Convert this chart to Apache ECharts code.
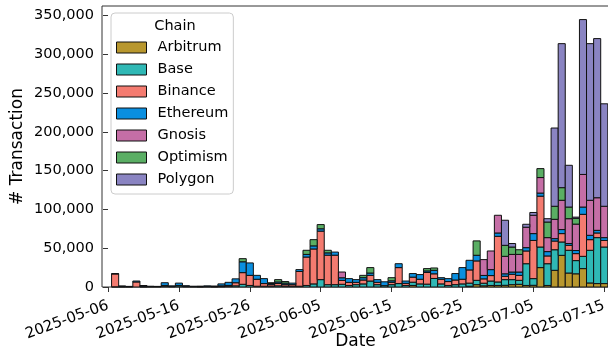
<!DOCTYPE html>
<html><head><meta charset="utf-8">
<script src="https://cdn.jsdelivr.net/npm/echarts@6/dist/echarts.min.js"></script>
<style>html,body{margin:0;padding:0;background:#fff}#c{width:608px;height:356px}</style>
</head><body><div id="c"></div>
<script>
const dates = [
'2025-05-07','2025-05-08','2025-05-09','2025-05-10','2025-05-11','2025-05-12','2025-05-13','2025-05-14','2025-05-15','2025-05-16',
'2025-05-17','2025-05-18','2025-05-19','2025-05-20','2025-05-21','2025-05-22','2025-05-23','2025-05-24','2025-05-25','2025-05-26',
'2025-05-27','2025-05-28','2025-05-29','2025-05-30','2025-05-31','2025-06-01','2025-06-02','2025-06-03','2025-06-04','2025-06-05',
'2025-06-06','2025-06-07','2025-06-08','2025-06-09','2025-06-10','2025-06-11','2025-06-12','2025-06-13','2025-06-14','2025-06-15',
'2025-06-16','2025-06-17','2025-06-18','2025-06-19','2025-06-20','2025-06-21','2025-06-22','2025-06-23','2025-06-24','2025-06-25',
'2025-06-26','2025-06-27','2025-06-28','2025-06-29','2025-06-30','2025-07-01','2025-07-02','2025-07-03','2025-07-04','2025-07-05',
'2025-07-06','2025-07-07','2025-07-08','2025-07-09','2025-07-10','2025-07-11','2025-07-12','2025-07-13','2025-07-14','2025-07-15'];
const xTickLabels = ['2025-05-06','2025-05-16','2025-05-26','2025-06-05','2025-06-15','2025-06-25','2025-07-05','2025-07-15'];
const yTickValues = [0,50000,100000,150000,200000,250000,300000,350000];
const chains = ['Arbitrum','Base','Binance','Ethereum','Gnosis','Optimism','Polygon'];

const arbitrum = [
0,0,0,0,0,0,0,0,0,0,
0,0,0,0,0,0,0,0,0,0,
0,0,0,0,0,0,0,0,0,0,
0,0,0,0,0,0,0,0,0,0,
0,0,2000,0,0,0,0,0,0,0,
1000,3000,1500,2000,2000,2200,3000,3500,2000,2200,
25000,2000,21500,40800,18000,17000,23700,5200,4400,4400];
const base = [
300,300,0,0,300,0,0,1200,0,1500,
0,0,300,0,300,500,1000,1500,3500,2000,
1000,1000,1000,1500,1000,1000,1000,2000,4000,9500,
3000,3000,3500,2000,3000,4000,7700,3000,1700,3000,
4400,2000,4200,4000,3700,11000,4000,2000,3000,4000,
4000,5600,3400,5700,4500,7300,6500,5100,28000,8600,
26500,28000,26500,17200,29300,17000,15800,42100,59200,47100];
const binance = [
16500,500,300,6500,800,400,400,800,500,500,
500,400,300,500,400,1000,1000,4000,15000,13000,
9000,3400,2000,3000,2000,2000,19000,36600,45000,62500,
38000,38000,5000,4000,3000,5000,7300,3000,0,3000,
20600,2700,6500,6000,15000,6000,6000,5000,6000,6000,
17000,25000,5600,7000,58800,4300,6900,6400,16400,49200,
65500,10000,11200,10800,6400,9000,54100,13700,6000,8500];
const ethereum = [
500,500,500,1200,800,600,400,3500,1000,3000,
1200,600,500,1000,500,2500,4000,5000,14000,16000,
5000,6400,1500,2000,2000,2000,2400,3400,4000,3000,
3000,4000,3400,4800,3500,3000,3000,3500,5000,2000,
5000,3000,4600,6000,2000,4500,2000,3800,8300,15000,
12400,7300,4400,7700,4300,3200,2900,4300,4300,8800,
4000,5600,3100,5200,2300,4000,9400,5600,3400,3600];
const gnosis = [
0,0,0,0,0,0,0,0,0,0,
0,0,0,0,0,0,0,0,0,0,
0,0,0,0,0,0,0,0,0,0,
0,0,7400,0,0,0,0,0,0,0,
0,0,0,0,0,0,0,0,0,0,
0,0,20400,24000,22800,22500,22700,22700,26300,23600,
20000,18000,24900,37700,32000,34000,42000,45100,42000,40400];
const optimism = [
0,0,0,0,0,0,0,0,0,0,
0,0,0,0,0,0,0,0,4000,0,
0,0,1000,3000,2000,0,0,5300,8000,5400,
3300,0,0,0,0,3000,7000,0,0,4000,
0,0,0,0,3000,3000,0,0,0,0,
0,18500,0,0,0,14200,9500,6000,0,0,
11500,20100,16800,16300,15000,7500,0,0,0,0];
const polygon = [
0,0,0,0,0,0,0,0,0,0,
0,0,0,0,0,0,0,0,0,0,
0,0,0,0,0,0,0,0,0,0,
0,0,0,0,0,0,0,0,0,0,
0,0,0,0,0,0,0,0,0,0,
0,0,0,0,0,32300,4500,0,3800,3600,
0,4300,100800,185500,53800,1500,199500,201800,205000,132000];

const colors = ['#b8972e','#2fb8b5','#f47b70','#0a8fe0','#c56ea6','#5aae64','#8a84c2'];
const F = 'DejaVu Sans';
const DAY = 86400000;
const origin = Date.parse(xTickLabels[0]);
const toDay = s => Math.round((Date.parse(s) - origin) / DAY);
const dayX = dates.map(toDay);
const xTicks = xTickLabels.map(toDay);
const seriesValues = [arbitrum, base, binance, ethereum, gnosis, optimism, polygon];

// cumulative stacking (bottom -> top in legend order)
const running = dates.map(() => 0);
const stackedData = seriesValues.map(vals => {
  const out = [];
  vals.forEach((v, i) => {
    if (v > 0) out.push([dayX[i], running[i], running[i] + v]);
    running[i] += v;
  });
  return out;
});

function renderBar(params, api) {
  const x = api.value(0), lo = api.value(1), hi = api.value(2);
  const p0 = api.coord([x - 0.5, hi]);
  const p1 = api.coord([x + 0.5, lo]);
  return {
    type: 'rect',
    shape: {x: p0[0], y: p0[1], width: p1[0] - p0[0], height: p1[1] - p0[1]},
    style: api.style({stroke: '#111', lineWidth: 1})
  };
}

const chart = echarts.init(document.getElementById('c'), null, {renderer: 'canvas'});
const option = {
  animation: false,
  grid: {left: 102, right: -1, top: 6, bottom: 69, containLabel: false, outerBoundsMode: 'none',
    show: true, borderColor: '#333', borderWidth: 1, backgroundColor: 'transparent'},
  xAxis: {
    type: 'value', min: -0.85, max: 70.67,
    name: 'Date', nameLocation: 'middle', nameGap: 46, nameMoveOverlap: false,
    nameTextStyle: {fontSize: 17, color: '#000', fontFamily: F},
    axisLine: {show: false}, splitLine: {show: false},
    axisTick: {show: true, length: 5, customValues: xTicks, lineStyle: {color: '#333'}},
    axisLabel: {
      customValues: xTicks, rotate: 20, margin: 18, fontSize: 15, color: '#000', fontFamily: F, hideOverlap: false,
      formatter: v => { const i = xTicks.findIndex(t => Math.abs(t - v) < 1e-6); return i >= 0 ? xTickLabels[i] : ''; }
    }
  },
  yAxis: {
    type: 'value', min: 0, max: 362000,
    name: '# Transaction', nameLocation: 'middle', nameGap: 76, nameMoveOverlap: false,
    nameTextStyle: {fontSize: 17, color: '#000', fontFamily: F},
    axisLine: {show: false}, splitLine: {show: false},
    axisTick: {show: true, length: 5, customValues: yTickValues, lineStyle: {color: '#333'}},
    axisLabel: {customValues: yTickValues, margin: 8, fontSize: 14.5, color: '#000', fontFamily: F,
      formatter: v => Number(v).toLocaleString('en-US')}
  },
  legend: {
    orient: 'vertical', left: 111, top: 13, padding: [27, 5, 7, 5],
    itemWidth: 30, itemHeight: 11, itemGap: 7, icon: 'rect',
    backgroundColor: 'rgba(255,255,255,0.85)', borderColor: '#cccccc', borderWidth: 1, borderRadius: 4,
    textStyle: {fontSize: 14.5, color: '#000', fontFamily: F, padding: [0, 0, 0, 6]},
    itemStyle: {borderColor: '#111', borderWidth: 1},
    data: chains, selectedMode: false
  },
  graphic: [{type: 'text', x: 175, y: 26, z: 100,
    style: {text: 'Chain', fontSize: 14.5, fontFamily: F, fill: '#000', textAlign: 'center', textVerticalAlign: 'middle'}}],
  series: chains.map((name, k) => ({
    name, type: 'custom', renderItem: renderBar,
    encode: {x: 0, y: [1, 2]},
    data: stackedData[k],
    itemStyle: {color: colors[k], borderColor: '#111', borderWidth: 1},
    emphasis: {disabled: true}
  }))
};
chart.setOption(option);
</script></body></html>
